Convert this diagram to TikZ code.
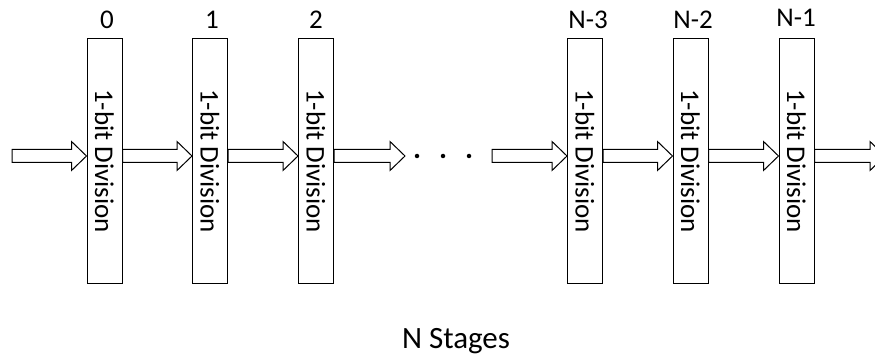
\documentclass[tikz,border=0pt]{standalone}
\usepackage{fontspec}
\setmainfont{Carlito}
\usetikzlibrary{calc}
\tikzset{
  stagebox/.style={draw=black, line width=1pt, minimum width=35pt, minimum height=244pt, inner sep=0pt, font=\fontsize{27}{30}\selectfont},
  lbl/.style={font=\fontsize{27}{30}\selectfont, inner sep=0pt},
  blockarr/.style={draw=black, line width=1pt, fill=white, line join=miter},
  dotmark/.style={fill=black, circle, inner sep=0pt, minimum size=4.5pt}
}
\newcommand\barrow[2]{\draw[blockarr] let \p1=(#1), \p2=(#2) in
  (\x1,\y1+6.5pt) -- (\x2-15pt,\y1+6.5pt) -- (\x2-15pt,\y1+14.5pt) -- (\x2,\y1)
  -- (\x2-15pt,\y1-14.5pt) -- (\x2-15pt,\y1-6.5pt) -- (\x1,\y1-6.5pt) -- cycle;}
\begin{document}
\begin{tikzpicture}[x=1pt,y=-1pt]
\useasboundingbox (0,0) rectangle (875,358);
\clip (0,0) rectangle (875,358);
% stages
\node[stagebox] (b0) at (104.5,161) {\rotatebox{-90}{1-bit Division}};
\node[stagebox] (b1) at (210,161) {\rotatebox{-90}{1-bit Division}};
\node[stagebox] (b2) at (316,161) {\rotatebox{-90}{1-bit Division}};
\node[stagebox] (b3) at (585,161) {\rotatebox{-90}{1-bit Division}};
\node[stagebox] (b4) at (690.5,161) {\rotatebox{-90}{1-bit Division}};
\node[stagebox] (b5) at (796.5,161) {\rotatebox{-90}{1-bit Division}};
% labels
\node[lbl] (l0) at (107,20) {0};
\node[lbl] (l1) at (212,20) {1};
\node[lbl] (l2) at (316,20) {2};
\node[lbl] (l3) at (588,20) {N-3};
\node[lbl] (l4) at (693,20) {N-2};
\node[lbl] (l5) at (796,18) {N-1};
% free ends
\coordinate (in) at (12,156);
\coordinate (d0) at (405,156);
\coordinate (d1) at (492,156);
\coordinate (out) at (885,156);
% dots
\node[dotmark] (p1) at (417,156) {};
\node[dotmark] (p2) at (443,156) {};
\node[dotmark] (p3) at (469,156) {};
% arrows
\barrow{in}{b0.west |- in}
\barrow{b0.east |- in}{b1.west |- in}
\barrow{b1.east |- in}{b2.west |- in}
\barrow{b2.east |- in}{d0}
\barrow{d1}{b3.west |- in}
\barrow{b3.east |- in}{b4.west |- in}
\barrow{b4.east |- in}{b5.west |- in}
\barrow{b5.east |- in}{out}
% caption
\node[font=\fontsize{31}{34}\selectfont, inner sep=0pt, anchor=base] (cap) at (456,348) {N Stages};
\end{tikzpicture}
\end{document}
